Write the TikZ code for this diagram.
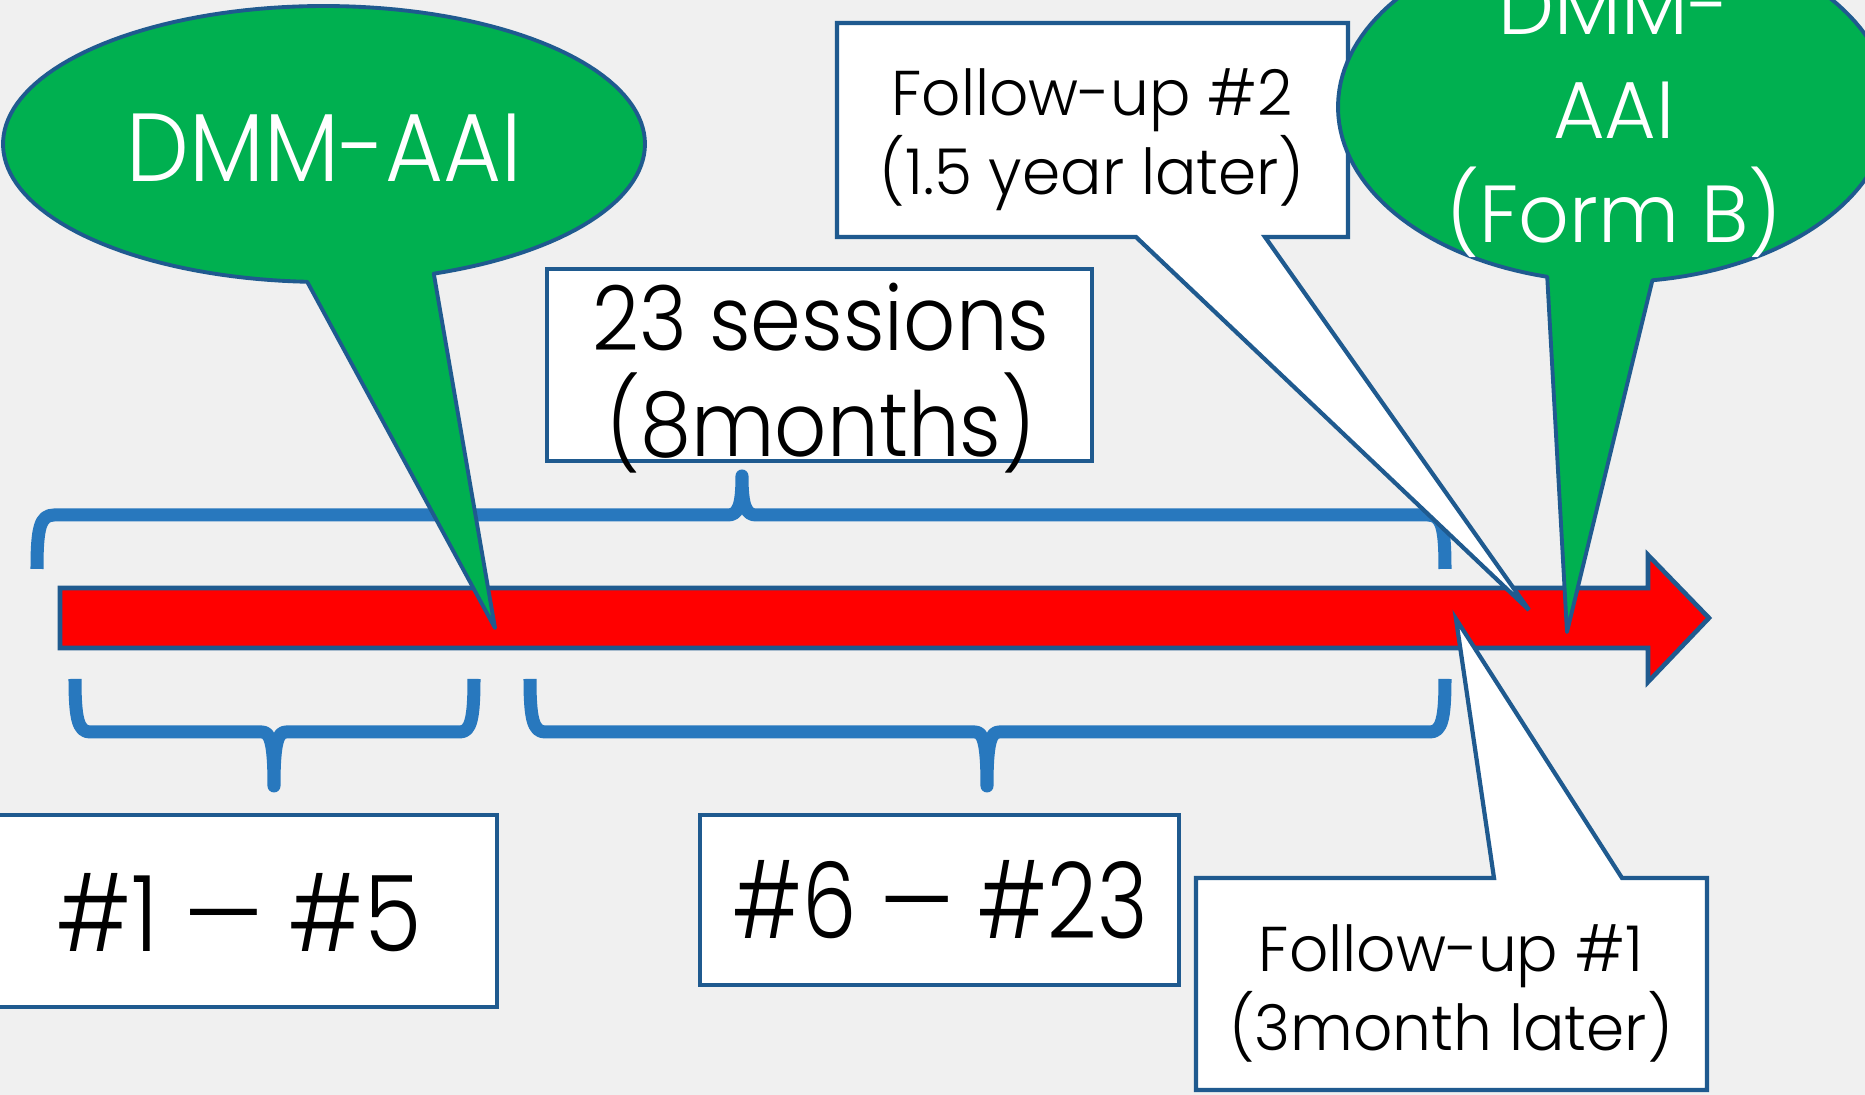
\documentclass[tikz,border=0pt]{standalone}
\usepackage{fontspec}
\setmainfont{Poppins Light}
\definecolor{bgcol}{RGB}{240,240,240}
\definecolor{edgeblue}{RGB}{31,90,143}
\definecolor{braceblue}{RGB}{40,120,190}
\definecolor{callgreen}{RGB}{0,176,80}
\definecolor{arrowred}{RGB}{255,0,0}
\newcommand{\stretchto}[1]{\addfontfeature{FakeStretch=#1}}
\begin{document}
\begin{tikzpicture}[x=0.01cm,y=-0.01cm,
  brace/.style={draw=braceblue,line width=3.7pt,line join=round,line cap=butt},
  greencall/.style={fill=callgreen,draw=edgeblue,line width=1.1pt,line join=round},
  whitecall/.style={fill=white,draw=edgeblue,line width=1.2pt,line join=miter},
  redarrow/.style={fill=arrowred,draw=edgeblue,line width=1.3pt,line join=miter},
  lbl/.style={inner sep=0pt,align=center}]
\useasboundingbox (0,0) rectangle (1865,1095);
\clip (0,0) rectangle (1865,1095);
\fill[bgcol] (0,0) rectangle (1865,1095);

% braces above and below the time line
\draw[brace] (37,569) .. controls (37,528) and (40,515) .. (54,515) -- (728,515)
  .. controls (738,515) and (742,506) .. (742,476)
  .. controls (742,506) and (746,515) .. (756,515) -- (1428,515)
  .. controls (1442,515) and (1445,528) .. (1445,569);
\draw[brace] (75,679) .. controls (75,718) and (78,732) .. (90,732) -- (262,732)
  .. controls (270,732) and (274,742) .. (274,786)
  .. controls (274,742) and (278,732) .. (286,732) -- (460,732)
  .. controls (471,732) and (474,718) .. (474,679);
\draw[brace] (530,679) .. controls (530,718) and (533,732) .. (545,732) -- (975,732)
  .. controls (983,732) and (987,742) .. (987,786)
  .. controls (987,742) and (991,732) .. (999,732) -- (1430,732)
  .. controls (1442,732) and (1445,718) .. (1445,679);

% time line
\filldraw[redarrow] (60,588) -- (1648,588) -- (1648,555) -- (1709,618)
  -- (1648,682) -- (1648,648) -- (60,648) -- cycle;

% session range boxes
\draw[whitecall] (-6,815) rectangle (497,1007);
\node[lbl,font=\fontsize{30}{36}\selectfont\stretchto{0.88}] (r1) at (239,913) {\#1 — \#5};
\draw[whitecall] (700,815) rectangle (1179,985);
\node[lbl,font=\fontsize{30}{36}\selectfont\stretchto{0.82}] (r2) at (940,900) {\#6 — \#23};

% sessions box
\draw[whitecall] (547,269) rectangle (1092,461);
\node[lbl,font=\fontsize{25.5}{30}\selectfont\stretchto{0.91}] (sess) at (821,378) {23 sessions\\(8months)};

% first DMM-AAI callout
\coordinate (tipA) at (495,628);
\filldraw[greencall] (tipA) -- plot[domain=70:-267,samples=150]
  ({324+321*cos(\x)},{144+138*sin(\x)}) -- cycle;
\node[lbl,text=white,font=\fontsize{27.5}{33}\selectfont\stretchto{0.92}] (dmmA) at (324,148) {DMM-AAI};

% follow-up #2 callout
\coordinate (tipF2) at (1529,610);
\filldraw[whitecall] (837,23) -- (1348,23) -- (1348,237) -- (1265,237) -- (tipF2)
  -- (1136,237) -- (837,237) -- cycle;
\node[lbl,font=\fontsize{18}{21.3}\selectfont\stretchto{0.97}] (fu2) at (1092,140) {Follow-up \#2\\(1.5 year later)};

% follow-up #1 callout
\coordinate (tipF1) at (1456,619);
\filldraw[whitecall] (1196,878) -- (1494,878) -- (tipF1) -- (1622,878) -- (1707,878)
  -- (1707,1090) -- (1196,1090) -- cycle;
\node[lbl,font=\fontsize{18}{21.3}\selectfont\stretchto{0.97}] (fu1) at (1451,993) {Follow-up \#1\\(3month later)};

% second DMM-AAI callout (form B)
\coordinate (tipB) at (1567,632);
\filldraw[greencall] (tipB) -- plot[domain=82:-256,samples=150]
  ({1614+276*cos(\x)},{107+175*sin(\x)}) -- cycle;
\node[lbl,text=white,font=\fontsize{23}{29.5}\selectfont\stretchto{0.98}] (dmmB) at (1614,118) {DMM-\\AAI\\(Form B)};
\end{tikzpicture}
\end{document}
